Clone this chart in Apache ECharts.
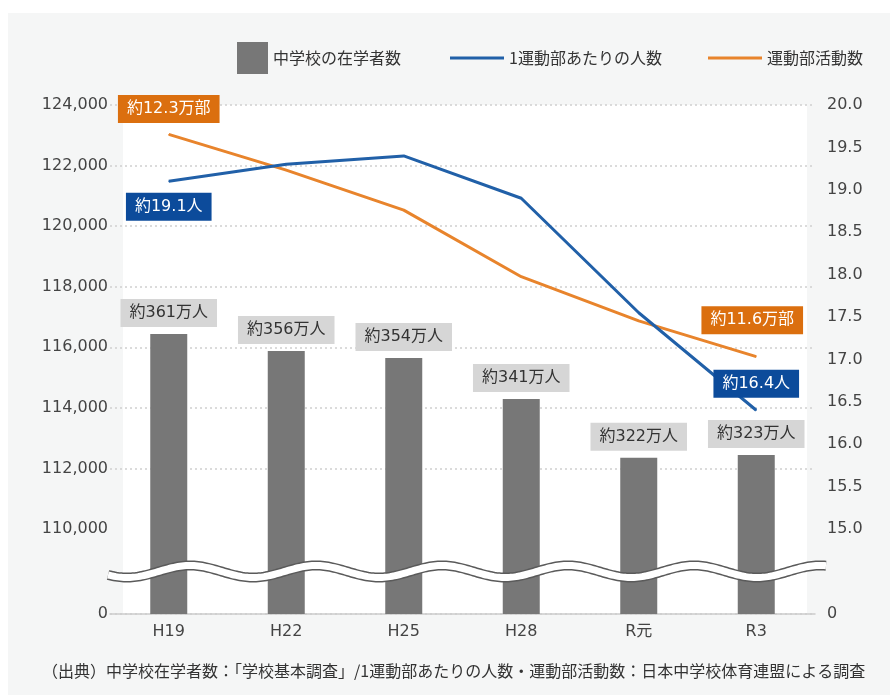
<!DOCTYPE html>
<html><head><meta charset="utf-8">
<script src="https://cdn.jsdelivr.net/npm/echarts@6/dist/echarts.min.js"></script>
<style>html,body{margin:0;padding:0;background:#fff}#c{width:890px;height:695px}</style>
</head><body><div id="c"></div>
<script>
// ---- data ----
const categories = ['H19', 'H22', 'H25', 'H28', 'R元', 'R3'];
const studentBars = [116440, 115880, 115650, 114290, 112350, 112445];
const studentLabels = ['約361万人', '約356万人', '約354万人', '約341万人', '約322万人', '約323万人'];
const clubCounts = [123030, 121850, 120530, 118330, 116870, 115690];
const clubLabels = ['約12.3万部', '', '', '', '', '約11.6万部'];
const perClub = [19.1, 19.3, 19.4, 18.9, 17.55, 16.4];
const perClubLabels = ['約19.1人', '', '', '', '', '約16.4人'];
const seriesNames = ['中学校の在学者数', '1運動部あたりの人数', '運動部活動数'];
const footnote = '（出典）中学校在学者数：「学校基本調査」/1運動部あたりの人数・運動部活動数：日本中学校体育連盟による調査';

const NUM_FONT = "'DejaVu Sans', 'Noto Sans CJK JP', sans-serif";
const JP_FONT = "'Noto Sans CJK JP', sans-serif";
const ORANGE = '#e8842c', ORANGE_BOX = '#db6f0f';
const BLUE = '#2160a8', BLUE_BOX = '#0c4b9b';

function boxLabel(text, bg, color, pos, dist, offset) {
  return {
    show: true, position: pos, distance: dist, offset: offset || [0, 0],
    formatter: text, backgroundColor: bg, color: color,
    fontFamily: NUM_FONT, fontSize: 16, lineHeight: 18, padding: [5, 9]
  };
}
const noLabel = { show: false };

const clubLabelCfg = [['top', 11, [0, 0]], null, null, null, null, ['top', 22, [-4, 0]]];
const perLabelCfg = [['bottom', 11, [0, 0]], null, null, null, null, ['top', 12, [0, 0]]];

const chart = echarts.init(document.getElementById('c'), null, { renderer: 'canvas' });

const legendText = { fontFamily: JP_FONT, fontSize: 16, color: '#333' };
const option = {
  animation: false,
  backgroundColor: '#ffffff',
  textStyle: { fontFamily: NUM_FONT },
  title: {
    text: footnote, left: 37, top: 658,
    textStyle: { fontFamily: JP_FONT, fontSize: 16, fontWeight: 'normal', color: '#333' }
  },
  legend: [
    { data: [{ name: seriesNames[0], icon: 'rect' }], left: 232, top: 37, itemWidth: 31, itemHeight: 32, textStyle: legendText },
    { data: [{ name: seriesNames[1], icon: 'rect' }], left: 445, top: 45, itemWidth: 54, itemHeight: 3, textStyle: legendText },
    { data: [{ name: seriesNames[2], icon: 'rect' }], left: 703, top: 45, itemWidth: 54, itemHeight: 3, textStyle: legendText }
  ],
  grid: { left: 110, right: 75, top: 105, bottom: 81, outerBoundsMode: 'none' },
  xAxis: {
    type: 'category', data: categories,
    axisLine: { lineStyle: { color: '#cccccc', width: 1.5 } },
    axisTick: { show: false },
    axisLabel: { fontFamily: NUM_FONT, fontSize: 16, color: '#444', margin: 10 }
  },
  yAxis: [
    {
      type: 'value', min: 0, max: 124000, interval: 2000,
      breaks: [{ start: 0, end: 110000, gap: 2807 }],
      breakArea: { show: false },
      axisLine: { show: false }, axisTick: { show: false },
      axisLabel: {
        fontFamily: NUM_FONT, fontSize: 16, color: '#444', margin: 2,
        formatter: function (v) { return v === 0 ? '0' : Math.round(v).toLocaleString('en-US'); }
      },
      splitLine: { show: true, lineStyle: { color: '#cfcfcf', type: [2, 3], width: 1.5 } }
    },
    {
      type: 'value', min: 0, max: 20, interval: 0.5,
      breaks: [{ start: 0, end: 15, gap: 1.0024 }],
      breakArea: { show: false },
      axisLine: { show: false }, axisTick: { show: false },
      axisLabel: {
        fontFamily: NUM_FONT, fontSize: 16, color: '#444', margin: 12,
        formatter: function (v) { return v === 0 ? '0' : Number(v).toFixed(1); }
      },
      splitLine: { show: false }
    }
  ],
  series: [
    {
      name: seriesNames[0], type: 'bar', yAxisIndex: 0, barWidth: 37,
      itemStyle: { color: '#777777' },
      data: studentBars.map((v, i) => ({
        value: v, label: boxLabel(studentLabels[i], '#d6d6d6', '#333', 'top', 7)
      })),
      z: 2
    },
    {
      name: seriesNames[2], type: 'line', yAxisIndex: 0,
      symbol: 'circle', symbolSize: 1, showSymbol: true,
      lineStyle: { color: ORANGE, width: 3 }, itemStyle: { color: ORANGE },
      data: clubCounts.map((v, i) => {
        const c = clubLabelCfg[i];
        return { value: v, label: c ? boxLabel(clubLabels[i], ORANGE_BOX, '#fff', c[0], c[1], c[2]) : noLabel };
      }),
      z: 3
    },
    {
      name: seriesNames[1], type: 'line', yAxisIndex: 1,
      symbol: 'circle', symbolSize: 1, showSymbol: true,
      lineStyle: { color: BLUE, width: 3 }, itemStyle: { color: BLUE },
      data: perClub.map((v, i) => {
        const c = perLabelCfg[i];
        return { value: v, label: c ? boxLabel(perClubLabels[i], BLUE_BOX, '#fff', c[0], c[1], c[2]) : noLabel };
      }),
      z: 4
    }
  ]
};
chart.setOption(option);

// decorative background panels and the wavy axis-break mark
const yA = chart.convertToPixel({ yAxisIndex: 0 }, 110000);
const yB = chart.convertToPixel({ yAxisIndex: 0 }, 0);
const yTopPlot = chart.convertToPixel({ yAxisIndex: 0 }, 124000);
const yc = (yA + yB) / 2;
const pts = [];
for (let x = 108; x <= 827; x += 2) {
  pts.push([x, yc - 6 * Math.cos((x - 190) / 126 * 2 * Math.PI)]);
}
chart.setOption({
  graphic: [
    { type: 'rect', z: -20, silent: true, shape: { x: 8, y: 13, width: 882, height: 682 }, style: { fill: '#f5f6f6' } },
    { type: 'rect', z: -10, silent: true, shape: { x: 123, y: yTopPlot, width: 684, height: yB - yTopPlot }, style: { fill: '#ffffff' } },
    { type: 'polyline', z: 100, silent: true, shape: { points: pts }, style: { stroke: '#5a5a5a', lineWidth: 10, fill: null } },
    { type: 'polyline', z: 101, silent: true, shape: { points: pts }, style: { stroke: '#ffffff', lineWidth: 7, fill: null } }
  ]
});
</script></body></html>
